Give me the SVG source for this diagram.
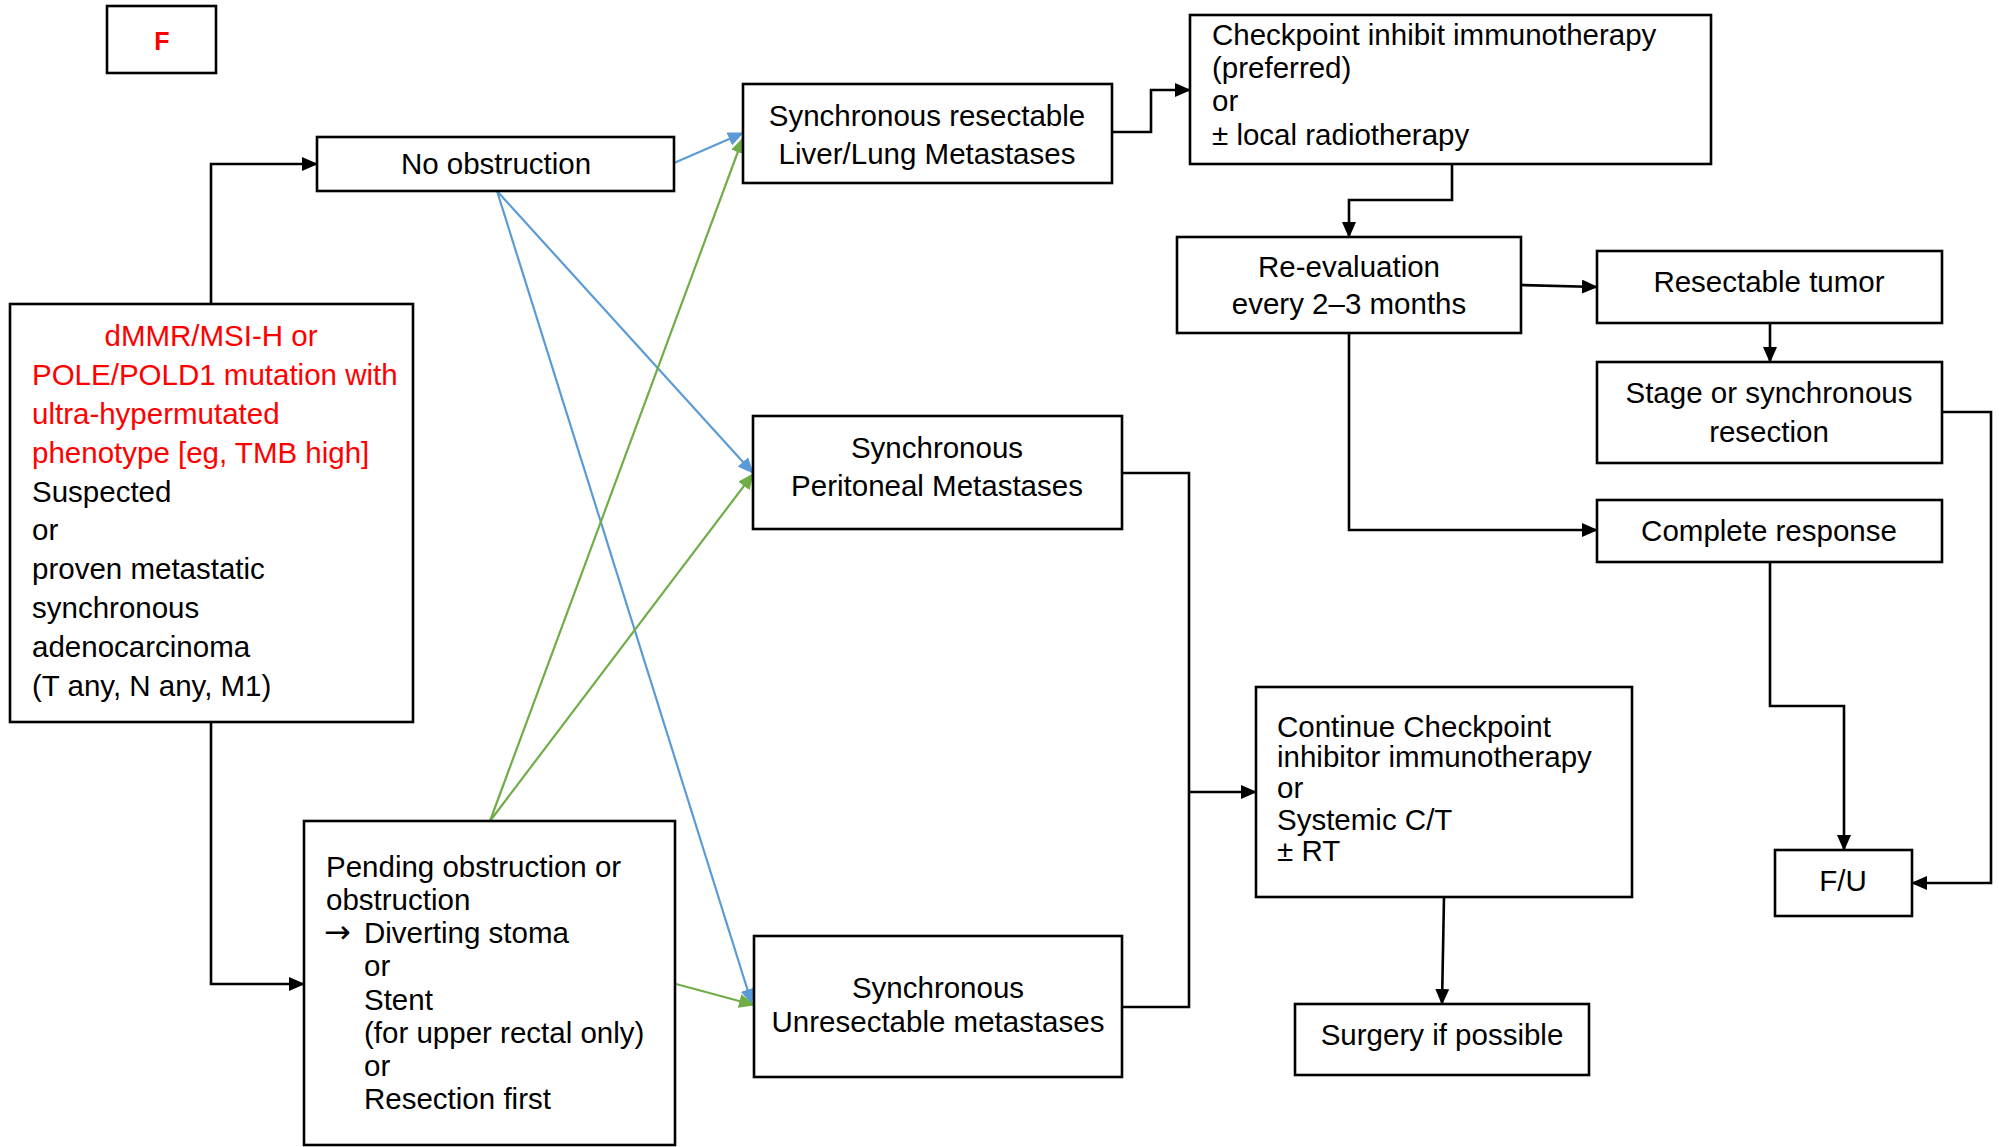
<svg xmlns="http://www.w3.org/2000/svg" width="1999" height="1147" viewBox="0 0 1999 1147">
  <style>
    .box { fill: #ffffff; stroke: #000000; stroke-width: 2.6; }
    .t { font-family: "Liberation Sans", Arial, sans-serif; font-size: 29.5px; fill: #000000; }
    .c { text-anchor: middle; }
    .red { fill: #ff0000; }
    .k { fill: none; stroke: #000000; stroke-width: 2.6; }
    .b { fill: none; stroke: #5b9bd5; stroke-width: 2.2; }
    .g { fill: none; stroke: #70ad47; stroke-width: 2.2; }
  </style>
  <defs>
    <marker id="ak" markerUnits="userSpaceOnUse" markerWidth="16" markerHeight="14" refX="15" refY="7" orient="auto">
      <path d="M0,0 L16,7 L0,14 z" fill="#000000"/>
    </marker>
    <marker id="ab" markerUnits="userSpaceOnUse" markerWidth="16" markerHeight="14" refX="15" refY="7" orient="auto">
      <path d="M0,0 L16,7 L0,14 z" fill="#5b9bd5"/>
    </marker>
    <marker id="ag" markerUnits="userSpaceOnUse" markerWidth="16" markerHeight="14" refX="15" refY="7" orient="auto">
      <path d="M0,0 L16,7 L0,14 z" fill="#70ad47"/>
    </marker>
  </defs>
  <rect width="1999" height="1147" fill="#ffffff"/>

  <g id="connectors">
    <path class="k" d="M211,303 V164 H317" marker-end="url(#ak)"/>
    <path class="k" d="M211,722 V984 H304" marker-end="url(#ak)"/>
    <path class="b" d="M674,163 L743,133" marker-end="url(#ab)"/>
    <path class="b" d="M497,191 L753,473" marker-end="url(#ab)"/>
    <path class="b" d="M497,191 L752,1004" marker-end="url(#ab)"/>
    <path class="g" d="M490,821 L743,138" marker-end="url(#ag)"/>
    <path class="g" d="M490,821 L753,474" marker-end="url(#ag)"/>
    <path class="g" d="M676,984 L754,1005" marker-end="url(#ag)"/>
    <path class="k" d="M1112,132 H1151 V90 H1190" marker-end="url(#ak)"/>
    <path class="k" d="M1452,164 V200 H1349 V237" marker-end="url(#ak)"/>
    <path class="k" d="M1521,285 L1597,287" marker-end="url(#ak)"/>
    <path class="k" d="M1770,323 V362" marker-end="url(#ak)"/>
    <path class="k" d="M1349,333 V530 H1597" marker-end="url(#ak)"/>
    <path class="k" d="M1942,412 H1991 V883 H1912" marker-end="url(#ak)"/>
    <path class="k" d="M1770,562 V706 H1844 V850" marker-end="url(#ak)"/>
    <path class="k" d="M1122,473 H1189 V1007 H1122"/>
    <path class="k" d="M1189,792 H1256" marker-end="url(#ak)"/>
    <path class="k" d="M1444,897 L1442,1004" marker-end="url(#ak)"/>
  </g>

  <g id="node-f">
    <rect class="box" x="107" y="6" width="109" height="67"/>
    <text class="t c red" x="162" y="50" style="font-weight:bold;font-size:25px">F</text>
  </g>

  <g id="node-no-obstruction">
    <rect class="box" x="317" y="137" width="357" height="54"/>
    <text class="t c" x="496" y="174">No obstruction</text>
  </g>

  <g id="node-dmmr">
    <rect class="box" x="10" y="304" width="403" height="418"/>
    <text class="t c red" x="211" y="346">dMMR/MSI-H or</text>
    <text class="t red" x="32" y="385">POLE/POLD1 mutation with</text>
    <text class="t red" x="32" y="424">ultra-hypermutated</text>
    <text class="t red" x="32" y="463">phenotype [eg, TMB high]</text>
    <text class="t" x="32" y="502">Suspected</text>
    <text class="t" x="32" y="540">or</text>
    <text class="t" x="32" y="579">proven metastatic</text>
    <text class="t" x="32" y="618">synchronous</text>
    <text class="t" x="32" y="657">adenocarcinoma</text>
    <text class="t" x="32" y="696">(T any, N any, M1)</text>
  </g>

  <g id="node-pending">
    <rect class="box" x="304" y="821" width="371" height="324"/>
    <text class="t" x="326" y="877">Pending obstruction or</text>
    <text class="t" x="326" y="910">obstruction</text>
    <text class="t" x="324" y="943" style="font-family:'DejaVu Sans',sans-serif;font-size:32px">→</text>
    <text class="t" x="364" y="943">Diverting stoma</text>
    <text class="t" x="364" y="976">or</text>
    <text class="t" x="364" y="1010">Stent</text>
    <text class="t" x="364" y="1043">(for upper rectal only)</text>
    <text class="t" x="364" y="1076">or</text>
    <text class="t" x="364" y="1109">Resection first</text>
  </g>

  <g id="node-sync-resectable">
    <rect class="box" x="743" y="84" width="369" height="99"/>
    <text class="t c" x="927" y="126">Synchronous resectable</text>
    <text class="t c" x="927" y="164">Liver/Lung Metastases</text>
  </g>

  <g id="node-peritoneal">
    <rect class="box" x="753" y="416" width="369" height="113"/>
    <text class="t c" x="937" y="458">Synchronous</text>
    <text class="t c" x="937" y="496">Peritoneal Metastases</text>
  </g>

  <g id="node-unresectable">
    <rect class="box" x="754" y="936" width="368" height="141"/>
    <text class="t c" x="938" y="998">Synchronous</text>
    <text class="t c" x="938" y="1032">Unresectable metastases</text>
  </g>

  <g id="node-checkpoint">
    <rect class="box" x="1190" y="15" width="521" height="149"/>
    <text class="t" x="1212" y="45">Checkpoint inhibit immunotherapy</text>
    <text class="t" x="1212" y="78">(preferred)</text>
    <text class="t" x="1212" y="111">or</text>
    <text class="t" x="1212" y="145">± local radiotherapy</text>
  </g>

  <g id="node-reevaluation">
    <rect class="box" x="1177" y="237" width="344" height="96"/>
    <text class="t c" x="1349" y="277">Re-evaluation</text>
    <text class="t c" x="1349" y="314">every 2–3 months</text>
  </g>

  <g id="node-resectable-tumor">
    <rect class="box" x="1597" y="251" width="345" height="72"/>
    <text class="t c" x="1769" y="292">Resectable tumor</text>
  </g>

  <g id="node-stage-resection">
    <rect class="box" x="1597" y="362" width="345" height="101"/>
    <text class="t c" x="1769" y="403">Stage or synchronous</text>
    <text class="t c" x="1769" y="442">resection</text>
  </g>

  <g id="node-complete-response">
    <rect class="box" x="1597" y="500" width="345" height="62"/>
    <text class="t c" x="1769" y="541">Complete response</text>
  </g>

  <g id="node-continue">
    <rect class="box" x="1256" y="687" width="376" height="210"/>
    <text class="t" x="1277" y="737">Continue Checkpoint</text>
    <text class="t" x="1277" y="767">inhibitor immunotherapy</text>
    <text class="t" x="1277" y="798">or</text>
    <text class="t" x="1277" y="830">Systemic C/T</text>
    <text class="t" x="1277" y="861">± RT</text>
  </g>

  <g id="node-surgery">
    <rect class="box" x="1295" y="1004" width="294" height="71"/>
    <text class="t c" x="1442" y="1045">Surgery if possible</text>
  </g>

  <g id="node-fu">
    <rect class="box" x="1775" y="850" width="137" height="66"/>
    <text class="t c" x="1843" y="891">F/U</text>
  </g>
</svg>
